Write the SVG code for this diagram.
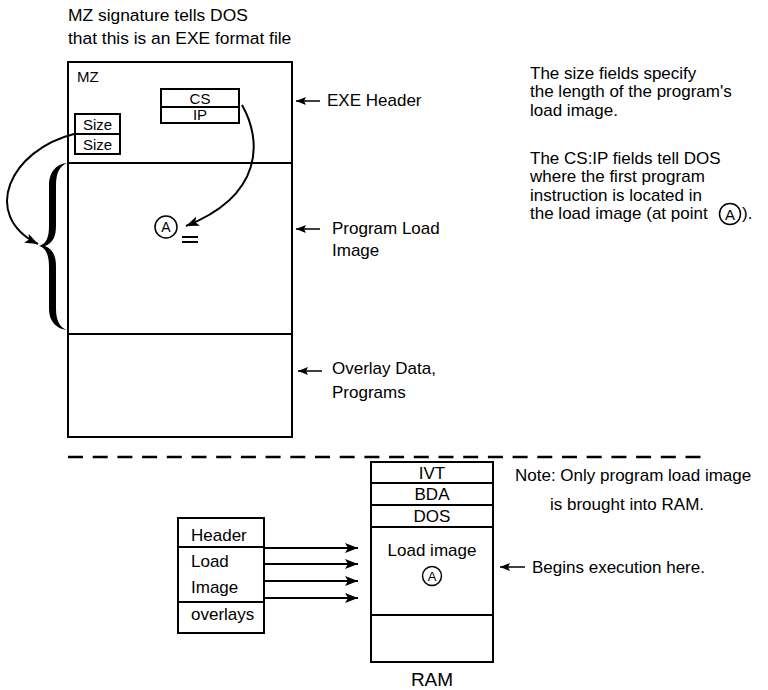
<svg xmlns="http://www.w3.org/2000/svg" width="768" height="690" viewBox="0 0 768 690">
<defs>
<style>
text{font-family:"Liberation Sans",Arial,sans-serif;fill:#000}
.t{font-size:17px}
.h{font-size:17.4px}
.s{font-size:15px}
.c{text-anchor:middle}
.box{fill:#fff;stroke:#000;stroke-width:2}
.ln{stroke:#000;stroke-width:2;fill:none}
.thin{stroke:#000;stroke-width:1.5;fill:none}
.ci{fill:#fff;stroke:#000;stroke-width:1.5}
</style>
<marker id="ah" markerUnits="userSpaceOnUse" markerWidth="14" markerHeight="12" refX="13" refY="5" orient="auto">
<path d="M0,0 L13,5 L0,10 L3,5 Z" fill="#000"/>
</marker>
<marker id="ahs" markerUnits="userSpaceOnUse" markerWidth="12" markerHeight="10" refX="10" refY="4" orient="auto">
<path d="M0,0 L10,4 L0,8 L2,4 Z" fill="#000"/>
</marker>
</defs>
<rect width="768" height="690" fill="#fff"/>

<g id="title">
<text class="h" x="68" y="21">MZ signature tells DOS</text>
<text class="h" x="68" y="44">that this is an EXE format file</text>
</g>

<g id="exe-file">
<rect class="box" x="68" y="62" width="224" height="375"/>
<line class="ln" x1="68" y1="163" x2="292" y2="163"/>
<line class="ln" x1="68" y1="334" x2="292" y2="334"/>
<text class="s" x="77" y="82">MZ</text>
</g>

<g id="size-fields">
<rect class="box" x="75" y="114" width="45" height="40"/>
<line class="ln" x1="75" y1="134" x2="120" y2="134"/>
<text class="s c" x="97.5" y="130">Size</text>
<text class="s c" x="97.5" y="150">Size</text>
</g>

<g id="csip-fields">
<rect class="box" x="161" y="89" width="78" height="34"/>
<line class="ln" x1="161" y1="107" x2="239" y2="107"/>
<text class="s c" x="200" y="104">CS</text>
<text class="s c" x="200" y="120">IP</text>
</g>

<g id="brace">
<path d="M67,163 C58,164 49,170 49,186 L49,226 C49,238 46,244 39,246 C46,248 49,255 49,267 L49,309 C49,322 57,329 67,330 C61,328 56,322 56,309 L56,267 C56,256 53,249 45,246 C53,243 56,236 56,226 L56,186 C56,172 60,166 67,163 Z" fill="#000"/>
</g>

<g id="point-a">
<circle class="ci" cx="166" cy="227" r="11"/>
<text class="c" x="166" y="232" style="font-size:14px">A</text>
<line class="ln" x1="182" y1="237" x2="198" y2="237"/>
<line class="ln" x1="182" y1="242" x2="198" y2="242"/>
</g>

<g id="labels-right">
<text class="t" x="327" y="106">EXE Header</text>
<text class="t" x="332" y="234">Program Load</text>
<text class="t" x="332" y="256">Image</text>
<text class="t" x="332" y="374">Overlay Data,</text>
<text class="t" x="332" y="398">Programs</text>
</g>

<g id="notes">
<text class="t" x="530" y="79">The size fields specify</text>
<text class="t" x="530" y="97">the length of the program's</text>
<text class="t" x="530" y="116">load image.</text>
<text class="t" x="530" y="164">The CS:IP fields tell DOS</text>
<text class="t" x="530" y="182">where the first program</text>
<text class="t" x="530" y="201">instruction is located in</text>
<text class="t" x="530" y="219">the load image (at point</text>
<circle class="ci" cx="730" cy="214" r="10.5"/>
<text class="c" x="730" y="220" style="font-size:15px">A</text>
<text class="t" x="742" y="219">).</text>
</g>

<g id="separator">
<line x1="68" y1="457" x2="702" y2="457" stroke="#000" stroke-width="2.5" stroke-dasharray="15 9.7"/>
</g>

<g id="exe-small">
<rect class="box" x="178" y="518" width="86" height="115"/>
<line class="ln" x1="178" y1="547" x2="264" y2="547"/>
<line class="ln" x1="178" y1="602" x2="264" y2="602"/>
<text class="t" x="191" y="541">Header</text>
<text class="t" x="191" y="567">Load</text>
<text class="t" x="191" y="593">Image</text>
<text class="t" x="191" y="620">overlays</text>
</g>

<g id="ram">
<rect class="box" x="371" y="462" width="122" height="200"/>
<line class="ln" x1="371" y1="483" x2="493" y2="483"/>
<line class="ln" x1="371" y1="505" x2="493" y2="505"/>
<line class="ln" x1="371" y1="527" x2="493" y2="527"/>
<line class="ln" x1="371" y1="615" x2="493" y2="615"/>
<text class="t c" x="432" y="479">IVT</text>
<text class="t c" x="432" y="500">BDA</text>
<text class="t c" x="432" y="522">DOS</text>
<text class="t c" x="432" y="556">Load image</text>
<circle class="ci" cx="432" cy="576" r="9.5"/>
<text class="c" x="432" y="581" style="font-size:13px">A</text>
<text class="c" x="432" y="686" style="font-size:19px">RAM</text>
</g>

<g id="ram-notes">
<text class="t" x="515" y="481">Note: Only program load image</text>
<text class="t" x="550" y="510">is brought into RAM.</text>
<text class="t" x="532" y="573">Begins execution here.</text>
</g>

<g id="connectors">
<path class="ln" d="M74,134 C10,150 -20,215 38,244" marker-end="url(#ah)"/>
<path class="ln" d="M242,105 C262,140 264,195 186,226" marker-end="url(#ah)"/>
<line class="thin" x1="320" y1="101" x2="296" y2="101" marker-end="url(#ahs)"/>
<line class="thin" x1="320" y1="229" x2="296" y2="229" marker-end="url(#ahs)"/>
<line class="thin" x1="322" y1="371" x2="298" y2="371" marker-end="url(#ahs)"/>
<line class="thin" x1="525" y1="567" x2="500" y2="567" marker-end="url(#ahs)"/>
<line class="ln" x1="264" y1="548" x2="358" y2="548" marker-end="url(#ah)"/>
<line class="ln" x1="264" y1="564" x2="358" y2="564" marker-end="url(#ah)"/>
<line class="ln" x1="264" y1="581" x2="358" y2="581" marker-end="url(#ah)"/>
<line class="ln" x1="264" y1="598" x2="358" y2="598" marker-end="url(#ah)"/>
</g>
</svg>
